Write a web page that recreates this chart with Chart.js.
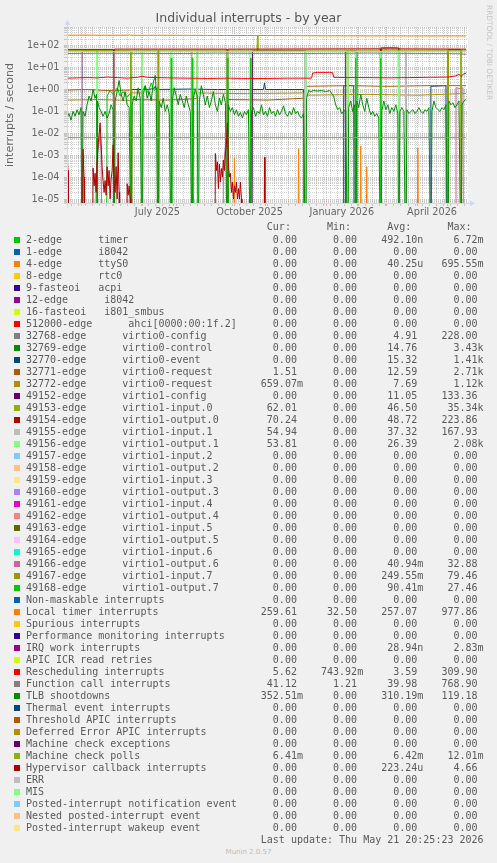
<!DOCTYPE html>
<html>
<head>
<meta charset="utf-8">
<title>Individual interrupts - by year</title>
<script src="https://cdn.jsdelivr.net/npm/chart.js@4.4.1/dist/chart.umd.min.js"></script>
<style>
  html, body { margin: 0; padding: 0; background: #f0f0f0; }
  #page { position: relative; width: 497px; height: 863px; overflow: hidden; }
  #chart { position: absolute; left: 0; top: 0; }
  .txt { position: absolute; left: 26px; height: 12px; font: 10px/12px "DejaVu Sans Mono", monospace; color: #5a5a5a; white-space: pre; }
  .box { position: absolute; left: 14px; width: 6px; height: 6px; }
  #munin { position: absolute; left: 0; width: 497px; top: 846px; text-align: center; font: 7px/12px "DejaVu Sans", sans-serif; color: #bbb; }
</style>
</head>
<body>
<div id="page">
  <canvas id="chart" width="497" height="222" style="width:497px;height:222px"></canvas>
  <div id="legend"></div>
  <div id="munin">Munin 2.0.57</div>
</div>
<script>
// Munin "irqstats" year graph, rebuilt with Chart.js

// ── Legend table ─────────────────────────────────────────────
const legendNames = [
  '2-edge      timer', '1-edge      i8042', '4-edge      ttyS0', '8-edge      rtc0',
  '9-fasteoi   acpi', '12-edge      i8042', '16-fasteoi   i801_smbus',
  '512000-edge      ahci[0000:00:1f.2]',
  '32768-edge      virtio0-config', '32769-edge      virtio0-control', '32770-edge      virtio0-event',
  '32771-edge      virtio0-request', '32772-edge      virtio0-request',
  '49152-edge      virtio1-config', '49153-edge      virtio1-input.0', '49154-edge      virtio1-output.0',
  '49155-edge      virtio1-input.1', '49156-edge      virtio1-output.1', '49157-edge      virtio1-input.2',
  '49158-edge      virtio1-output.2', '49159-edge      virtio1-input.3', '49160-edge      virtio1-output.3',
  '49161-edge      virtio1-input.4', '49162-edge      virtio1-output.4', '49163-edge      virtio1-input.5',
  '49164-edge      virtio1-output.5', '49165-edge      virtio1-input.6', '49166-edge      virtio1-output.6',
  '49167-edge      virtio1-input.7', '49168-edge      virtio1-output.7',
  'Non-maskable interrupts', 'Local timer interrupts', 'Spurious interrupts',
  'Performance monitoring interrupts', 'IRQ work interrupts', 'APIC ICR read retries',
  'Rescheduling interrupts', 'Function call interrupts', 'TLB shootdowns',
  'Thermal event interrupts', 'Threshold APIC interrupts', 'Deferred Error APIC interrupts',
  'Machine check exceptions', 'Machine check polls', 'Hypervisor callback interrupts',
  'ERR', 'MIS', 'Posted-interrupt notification event', 'Nested posted-interrupt event',
  'Posted-interrupt wakeup event'
];
const legendColors = [
  '#00CC00', '#0066B3', '#FF8000', '#FFCC00', '#330099', '#990099', '#CCFF00', '#FF0000',
  '#808080', '#008F00', '#00487D', '#B35A00', '#B38F00', '#6B006B', '#8FB300', '#B30000',
  '#BEBEBE', '#80FF80', '#80C9FF', '#FFC080', '#FFE680', '#AA80FF', '#EE00CC', '#FF8080',
  '#666600', '#FFBFFF', '#00FFCC', '#CC6699', '#999900', '#00CC00',
  '#0066B3', '#FF8000', '#FFCC00', '#330099', '#990099', '#CCFF00', '#FF0000', '#808080',
  '#008F00', '#00487D', '#B35A00', '#B38F00', '#6B006B', '#8FB300', '#B30000', '#BEBEBE',
  '#80FF80', '#80C9FF', '#FFC080', '#FFE680'
];
const curValues = [
  '0.00', '0.00', '0.00', '0.00', '0.00', '0.00', '0.00', '0.00',
  '0.00', '0.00', '0.00', '1.51', '659.07m', '0.00', '62.01', '70.24',
  '54.94', '53.81', '0.00', '0.00', '0.00', '0.00', '0.00', '0.00',
  '0.00', '0.00', '0.00', '0.00', '0.00', '0.00',
  '0.00', '259.61', '0.00', '0.00', '0.00', '0.00', '5.62', '41.12',
  '352.51m', '0.00', '0.00', '0.00', '0.00', '6.41m', '0.00', '0.00',
  '0.00', '0.00', '0.00', '0.00'
];
const minValues = [
  '0.00', '0.00', '0.00', '0.00', '0.00', '0.00', '0.00', '0.00',
  '0.00', '0.00', '0.00', '0.00', '0.00', '0.00', '0.00', '0.00',
  '0.00', '0.00', '0.00', '0.00', '0.00', '0.00', '0.00', '0.00',
  '0.00', '0.00', '0.00', '0.00', '0.00', '0.00',
  '0.00', '32.50', '0.00', '0.00', '0.00', '0.00', '743.92m', '1.21',
  '0.00', '0.00', '0.00', '0.00', '0.00', '0.00', '0.00', '0.00',
  '0.00', '0.00', '0.00', '0.00'
];
const avgValues = [
  '492.10n', '0.00', '40.25u', '0.00', '0.00', '0.00', '0.00', '0.00',
  '4.91', '14.76', '15.32', '12.59', '7.69', '11.05', '46.50', '48.72',
  '37.32', '26.39', '0.00', '0.00', '0.00', '0.00', '0.00', '0.00',
  '0.00', '0.00', '0.00', '40.94m', '249.55m', '90.41m',
  '0.00', '257.07', '0.00', '0.00', '28.94n', '0.00', '3.59', '39.98',
  '310.19m', '0.00', '0.00', '0.00', '0.00', '6.42m', '223.24u', '0.00',
  '0.00', '0.00', '0.00', '0.00'
];
const maxValues = [
  '6.72m', '0.00', '695.55m', '0.00', '0.00', '0.00', '0.00', '0.00',
  '228.00', '3.43k', '1.41k', '2.71k', '1.12k', '133.36', '35.34k', '223.86',
  '167.93', '2.08k', '0.00', '0.00', '0.00', '0.00', '0.00', '0.00',
  '0.00', '0.00', '0.00', '32.88', '79.46', '27.46',
  '0.00', '977.86', '0.00', '0.00', '2.83m', '0.00', '309.90', '768.90',
  '119.18', '0.00', '0.00', '0.00', '0.00', '12.01m', '4.66', '0.00',
  '0.00', '0.00', '0.00', '0.00'
];
const lastUpdate = 'Last update: Thu May 21 20:25:23 2026';

// ── Axes ─────────────────────────────────────────────────────
// x = days since 16 Apr 2025 20:25 (munin year view = 400 days)
const monthStartDays = [14.15, 45.15, 75.15, 106.15, 137.15, 167.15, 198.15, 228.15, 259.15, 290.15, 318.15, 349.15, 379.15];
const firstMondayDay = 4.15;
const xLabelDays = [90.15, 182.15, 274.15, 364.15];
const xTickLabels = ['July 2025', 'October 2025', 'January 2026', 'April 2026'];
const yDecades = [-5, -4, -3, -2, -1, 0, 1, 2];
const yTickLabels = ['1e-05', '1e-04', '1e-03', '1e-02', '1e-01', '1e+00', '1e+01', '1e+02'];
const Y_MIN = 6.6e-6;
const Y_MAX = 714;

// ── Series: [day, interrupts/s] ─────────────────────────────
const ttyS0 = [[166,0],[167,7.7e-4],[168,0],[230,0],[231,2e-3],[232,0],[292,0],[293,2.6e-3],[294,0],
  [298,0],[299,3e-4],[300,0],[349,0],[350,2.2e-3],[351,0]];
const virtio0Control = [[0,55],[20,56],[40,55],[63.5,55],[64,0],[312.5,0],[313,80],[322,82],[330.5,80],[331,0],[398,0]];
const virtio0Event = [[0,0],[63.5,0],[64,1.0],[80,1.0],[87,1.1],[88,1.4],[89,1.0],[120,1.05],[150,1.0],[196,1.0],
  [197,2.0],[198,1.0],[236,1.0],[236.5,0],[275.5,0],[276,1.5],[286,1.5],[286.5,0],[362.5,0],[363,1.4],[378,1.5],
  [378.5,0],[379.5,0],[380,65],[392.5,65],[393,0],[398,0]];
const virtio0RequestA = [[0,0.95],[20,1.0],[40,0.9],[63.5,0.95],[64,0],[64.5,0.35],[100,0.33],[129.5,0.38],[130,55],
  [159.5,55],[160,0],[160.5,0.35],[200,0.33],[236,0.4],[236.5,0],[237.5,0],[238,1.4],[280,1.5],[320,1.4],[360,1.5],[398,1.5]];
const virtio0RequestB = [[0,0.33],[30,0.35],[63.5,0.32],[64,0],[64.5,0.7],[74.5,0.7],[75,55],[124.5,55],[125,0],
  [125.5,0.7],[180,0.65],[236,0.7],[236.5,0],[237.5,0],[238,0.55],[300,0.6],[350,0.55],[398,0.66]];
const virtio1Config = [[0,0],[14.5,0],[15,58],[46.5,58],[47,0],[184.5,0],[185,60],[237.5,60],[238,0],[277.5,0],
  [278,58],[288.5,58],[289,0],[337.5,0],[338,58],[338.5,0],[398,0]];
const virtio1Input0 = [[0,60],[63.5,60],[64,0],[64.5,62],[189.5,62],[190,300],[190.5,62],[279.5,62],[280,0],
  [280.5,62],[379.5,62],[380,0],[380.5,62],[398,62]];
const virtio1Output0 = [[0,68],[46.5,68],[47,0],[47.5,70],[159.5,70],[160,0],[160.5,70],[312.5,72],[313,0],
  [313.5,72],[398,70]];
const virtio1Input1 = [[0,55],[14.5,55],[15,0],[46.5,0],[47,55],[237.5,55],[238,0],[238.5,55],[337.5,55],[338,0],
  [338.5,55],[398,55]];
const virtio1Output1 = [[0,54],[29.5,54],[30,0],[30.5,54],[74.5,54],[75,0],[75.5,54],[90.5,55],[91,0],[91.5,55],
  [103.5,55],[104,0],[104.5,55],[129.5,54],[130,0],[130.5,54],[159.5,54],[160,0],[160.5,54],[182.5,54],[183,0],
  [183.5,54],[237.5,55],[238,0],[238.5,55],[279.5,55],[280,0],[280.5,55],[287.5,55],[288,0],[288.5,55],[312.5,55],
  [313,0],[313.5,55],[330.5,54],[331,0],[331.5,54],[392.5,54],[393,0],[393.5,54],[398,54]];
const virtio1Input4 = [[124.5,0],[125,1.5e-5],[125.5,0]];
const virtio1Output6 = [[0,0],[28.5,0],[29,1e-4],[31,2e-3],[33,8e-3],[34,1e-3],[35,0],[155.5,0],[156,2e-4],[158,3e-3],
  [160,0.02],[161,5e-4],[162,0],[387.5,0],[388,1.2],[392,1.1],[395,1.2],[395.5,0],[398,0]];
const virtio1Input7 = [[90.5,0],[91,60],[91.5,0],[379.5,0],[380,58],[380.5,0],[392.5,0],[393,55],[393.5,0]];
const virtio1Output7 = [[0,0],[39.5,0],[40,0.5],[43,0.9],[46,0.6],[50,1.2],[53,0.5],[56,0.8],[60,0.45],[63.5,0.7],
  [64,0],[74.5,0],[75,0.8],[78,1.5],[81,0.7],[84,2.0],[87,0.9],[90.5,1.2],[91,0],[103.5,0],[104,27],[104.5,0],
  [124.5,0],[125,27],[125.5,0],[159.5,0],[160,27],[160.5,0],[182.5,0],[183,27],[183.5,0],[287.5,0],[288,27],
  [288.5,0],[312.5,0],[313,27],[313.5,0],[398,0]];
const localTimer = [[0,305],[10,303],[20,306],[30,302],[40,300],[50,301],[61,300],[62,318],[63,300],[80,298],
  [100,300],[120,297],[140,295],[160,292],[180,292],[200,290],[220,288],[240,285],[260,282],[280,281],[300,280],
  [320,280],[340,279],[360,278],[380,279],[398,278]];
const rescheduling = [[0,3.3],[10,3.4],[20,3.5],[30,3.4],[40,3.7],[50,3.5],[60,3.3],[70,3.6],[75,4.0],[80,3.6],
  [90,3.5],[100,3.4],[120,3.3],[140,3.2],[160,3.3],[180,3.2],[200,3.2],[220,3.3],[244,3.3],[245,5.6],[250,6.1],
  [256,6.0],[262,6.1],[265,5.8],[266,3.6],[280,3.5],[300,3.5],[320,3.4],[340,3.5],[360,3.6],[380,3.7],[388,4.2],
  [391,5.0],[393,4.0],[396,5.2],[398,5.6]];
const functionCall = [[0,44],[30,45],[60,45],[90,44],[120,44],[150,46],[180,45],[210,45],[240,44],[270,45],
  [300,46],[330,45],[360,44],[390,43],[398,41]];
const tlbShootdowns = [[0,0.05],[2,0.08],[4,0.04],[6,0.1],[8,0.06],[10,0.12],[12,0.07],[14,0.15],[15,0],[16,0.1],
  [18,0.06],[20,0.2],[22,0.5],[24,0.3],[26,1.0],[28,0.4],[29.5,0.6],[30,0],[30.5,0.3],[32,0.15],[34,0.1],[36,0.06],
  [38,0.1],[40,0.05],[42,0.08],[44,0.2],[46,0.12],[47,0],[48,0.3],[50,0.8],[52,2.6],[54,0.6],[56,0.3],[58,0.8],
  [60,0.2],[62,0.15],[64,0],[65,0.2],[67,0.5],[69,0.3],[71,1.2],[73,0.4],[75,0],[76,0.6],[78,1.5],[80,0.4],[82,0.8],
  [84,0.3],[86,2.0],[88,4.4],[89,1.0],[91,0],[92,0.3],[94,0.15],[96,0.4],[98,0.1],[100,0.2],[102,0.08],[104,0],
  [105,0.3],[107,1.2],[109,0.5],[111,0.2],[113,0.6],[115,0.3],[117,0.15],[119,0.5],[121,0.2],[123,0.1],[125,0],
  [126,0.4],[128,1.0],[130,0.5],[131,0],[132,0.3],[134,1.5],[136,0.6],[138,0.2],[140,0.5],[142,0.15],[144,0.3],
  [146,0.8],[148,0.2],[150,0.1],[152,0.4],[154,0.2],[156,0.6],[158,0.25],[160,0],[161,0.2],[163,0.1],[165,0.15],
  [167,0.07],[169,0.12],[171,0.06],[173,0.09],[175,0.05],[177,0.1],[179,0.07],[181,0.12],[183,0],[184,0.1],
  [186,0.15],[188,0.06],[190,0.1],[192,0.08],[194,0.2],[196,0.07],[198,0.1],[200,0.06],[202,0.15],[204,0.08],
  [206,0.1],[208,0.06],[210,0.12],[212,0.07],[214,0.1],[216,0.18],[218,0.08],[220,0.06],[222,0.1],[224,0.07],
  [226,0.15],[228,0.08],[230,0.1],[232,0.06],[234,0.05],[236,0.08],[238,0],[239,0.4],[241,0.9],[243,0.8],[246,0.9],
  [250,0.85],[254,0.9],[258,0.8],[262,0.9],[266,0.5],[268,0.2],[270,0.12],[272,0.15],[274,0.08],[276,0.1],
  [278,0.12],[280,0],[281,0.15],[283,0.3],[285,0.1],[287,0.2],[288,0],[289,0.3],[291,0.15],[293,0.6],[295,0.2],
  [297,0.1],[299,0.4],[301,0.15],[303,0.07],[305,0.1],[307,0.06],[309,0.08],[311,0.05],[313,0],[314,0.1],[316,0.3],
  [318,0.12],[320,0.2],[322,0.08],[324,0.15],[326,0.1],[328,0.2],[330,0.08],[331,0],[332,0.1],[334,0.15],[336,0.1],
  [338,0],[339,0.12],[341,0.08],[343,0.1],[345,0.12],[347,0.08],[349,0.1],[351,0.15],[353,0.1],[355,0.08],
  [357,0.12],[359,0.1],[361,0.15],[363,0],[364,0.1],[366,0.3],[368,0.15],[370,0.12],[372,0.1],[374,0.15],
  [376,0.12],[378,0.2],[380,0],[381,0.3],[383,0.2],[385,0.25],[387,0.15],[389,0.2],[391,0.3],[393,0],[394,0.2],
  [396,0.3],[398,0.35]];
const machineCheckPolls = [[0,6.4e-3],[398,6.4e-3]];
const hypervisorCallback = [[0,0],[0.5,5e-4],[1,2e-4],[1.5,0],[15.5,0],[16,1.9e-3],[17,1e-4],[17.5,0],
  [25.5,0],[26,2.6e-4],[27,4e-5],[28,1.5e-4],[29,2e-5],[30,5e-4],[31,3e-3],[32,8e-3],[33,0.03],[34,4e-3],[35,3e-4],
  [36,7e-5],[37,2e-5],[38,7e-5],[39,1.5e-5],[40,3e-4],[41,4e-5],[42,2e-4],[43,1e-5],[44,8e-5],[45,2e-4],[46,3e-3],
  [47,5e-5],[48,2e-5],[49,3e-4],[50,1e-5],[51,1.3e-3],[52,2e-5],[52.5,0],[59.5,0],[60,5e-5],[61,1.5e-5],[62,4e-5],
  [63,1e-5],[63.5,0],[147.5,0],[148,1.2e-3],[149,2e-4],[150,5e-4],[151,3e-5],[152,4e-4],[153,6e-5],[154,2.5e-4],
  [155,1e-4],[156,6e-4],[157,2e-4],[158,1.2e-3],[159,3e-3],[160,0.03],[161,4.5e-4],[162,1e-4],[163,1.5e-4],
  [164,2e-5],[165,6e-5],[166,1e-5],[167,4e-5],[168,2e-5],[169,6e-5],[170,1e-5],[171,3e-5],[172,1e-5],[173,6e-5],
  [174,1e-5],[174.5,0],[196.5,0],[197,8e-4],[197.5,0],[398,0]];

// legend index -> series drawn in the graph (rrdtool draws in legend order)
const plotted = [
  [2, ttyS0], [9, virtio0Control], [10, virtio0Event], [11, virtio0RequestA], [12, virtio0RequestB],
  [13, virtio1Config], [14, virtio1Input0], [15, virtio1Output0], [16, virtio1Input1], [17, virtio1Output1],
  [22, virtio1Input4], [27, virtio1Output6], [28, virtio1Input7], [29, virtio1Output7],
  [31, localTimer], [36, rescheduling], [37, functionCall], [38, tlbShootdowns],
  [43, machineCheckPolls], [44, hypervisorCallback]
];

// rrdtool puts log(0) at minus infinity: push zeros far below the axis
const ZERO_DRAW = 1e-9;

const datasets = plotted.map(([idx, pts]) => ({
  label: legendNames[idx],
  data: pts.map(([d, v]) => ({ x: d, y: v > 0 ? v : ZERO_DRAW })),
  borderColor: legendColors[idx],
  backgroundColor: legendColors[idx],
  borderWidth: 1,
  pointRadius: 0,
  tension: 0,
  fill: false,
  order: -idx
}));

// ── Grid ticks ───────────────────────────────────────────────
const xTicks = [];
monthStartDays.forEach(d => xTicks.push({ value: d, kind: 'major' }));
for (let d = firstMondayDay; d < 400; d += 7) {
  if (!monthStartDays.some(m => Math.abs(m - d) < 0.01)) xTicks.push({ value: d, kind: 'minor' });
}
xLabelDays.forEach((d, i) => xTicks.push({ value: d, kind: 'label', text: xTickLabels[i] }));
xTicks.sort((a, b) => a.value - b.value);

const yTicks = [];
for (let e = -6; e <= 2; e++) {
  for (let m = 1; m <= 9; m++) {
    const v = m * Math.pow(10, e);
    if (v < Y_MIN || v > Y_MAX) continue;
    const di = yDecades.indexOf(e);
    yTicks.push(m === 1 && di >= 0 ? { value: v, kind: 'major', text: yTickLabels[di] } : { value: v, kind: 'minor' });
  }
}

const GRID = 'rgba(140,140,140,0.42)';
const MGRID = 'rgba(228,80,80,0.42)';
const AXIS = '#CFD6F8';
const FONT = '#666666';

const gridColor = c => {
  const t = c.tick;
  if (!t) return GRID;
  if (t.kind === 'label') return 'rgba(0,0,0,0)';
  return t.kind === 'major' ? MGRID : GRID;
};

const rrdFrame = {
  id: 'rrdFrame',
  beforeDraw(chart) {
    const { ctx, chartArea: a } = chart;
    ctx.save();
    ctx.fillStyle = '#ffffff';
    ctx.fillRect(a.left, a.top, a.right - a.left, a.bottom - a.top);
    ctx.restore();
  },
  afterDraw(chart) {
    const { ctx, chartArea: a } = chart;
    const x0 = Math.round(a.left) + 0.5, y0 = Math.round(a.bottom) + 0.5;
    const xr = Math.round(a.right), yt = Math.round(a.top);
    ctx.save();
    ctx.strokeStyle = AXIS;
    ctx.fillStyle = AXIS;
    ctx.lineWidth = 1;
    ctx.beginPath();
    ctx.moveTo(x0 - 4, y0); ctx.lineTo(xr + 4, y0);
    ctx.moveTo(x0, y0 + 4); ctx.lineTo(x0, yt - 4);
    ctx.stroke();
    ctx.beginPath();
    ctx.moveTo(xr + 2, y0 - 3); ctx.lineTo(xr + 2, y0 + 3); ctx.lineTo(xr + 7, y0); ctx.closePath();
    ctx.moveTo(x0 - 3, yt - 2); ctx.lineTo(x0 + 3, yt - 2); ctx.lineTo(x0, yt - 7); ctx.closePath();
    ctx.fill();
    // rrdtool watermark
    ctx.translate(488.5, 5);
    ctx.rotate(Math.PI / 2);
    ctx.fillStyle = '#c4c4c4';
    ctx.font = '7.4px "DejaVu Sans"';
    ctx.textBaseline = 'middle';
    ctx.textAlign = 'left';
    ctx.fillText('RRDTOOL / TOBI OETIKER', 0, 0);
    ctx.restore();
  }
};

Chart.defaults.font.family = '"DejaVu Sans", sans-serif';

new Chart(document.getElementById('chart'), {
  type: 'line',
  data: { datasets },
  options: {
    responsive: false,
    animation: false,
    devicePixelRatio: 1,
    layout: { padding: 0, autoPadding: false },
    plugins: {
      legend: { display: false },
      tooltip: { enabled: false },
      title: {
        display: true,
        text: 'Individual interrupts - by year',
        color: '#555555',
        font: { size: 12.5, weight: 'normal' },
        padding: { top: 11, bottom: 1 }
      }
    },
    scales: {
      x: {
        type: 'linear', min: 0, max: 400,
        afterBuildTicks: s => { s.ticks = xTicks.map(t => ({ ...t })); },
        afterFit: s => { s.height = 19; },
        grid: { color: gridColor, tickColor: gridColor, lineWidth: 1, tickLength: 3, tickBorderDash: [] },
        border: { display: true, color: AXIS, width: 1, dash: [1, 1], z: 1 },
        ticks: {
          autoSkip: false, maxRotation: 0, minRotation: 0, padding: 1, color: FONT,
          font: { size: 9.7 },
          callback: (v, i, ticks) => ticks[i].text || ''
        }
      },
      y: {
        type: 'logarithmic', min: Y_MIN, max: Y_MAX,
        afterBuildTicks: s => { s.ticks = yTicks.map(t => ({ ...t })); },
        afterFit: s => { s.width = 67; },
        grid: { color: gridColor, tickColor: gridColor, lineWidth: 1, tickLength: 3, tickBorderDash: [] },
        border: { display: true, color: AXIS, width: 1, dash: [1, 1], z: 1 },
        ticks: {
          autoSkip: false, padding: 4.5, color: FONT,
          font: { size: 9.7 },
          callback: (v, i, ticks) => ticks[i].text || ''
        },
        title: {
          display: true, text: 'interrupts / second', color: FONT,
          font: { size: 11 }, padding: { top: 4, bottom: 0 }
        }
      },
      yRight: {
        type: 'linear', position: 'right', display: true,
        grid: { display: false, drawTicks: false },
        border: { display: false },
        ticks: { display: false },
        afterFit: s => { s.width = 29; }
      }
    }
  },
  plugins: [rrdFrame]
});

// ── Legend (rrdtool GPRINT layout, monospace columns) ───────
const legendEl = document.getElementById('legend');
const field = s => {
  const hasUnit = /[a-zA-Z]$/.test(s);
  return (hasUnit ? s.slice(0, -1) : s).padStart(9) + (hasUnit ? s.slice(-1) : ' ');
};
function addRow(centerY, text, color) {
  if (color) {
    const box = document.createElement('div');
    box.className = 'box';
    box.style.top = (centerY - 3) + 'px';
    box.style.backgroundColor = color;
    legendEl.appendChild(box);
  }
  const txt = document.createElement('div');
  txt.className = 'txt';
  txt.style.top = (centerY - 6) + 'px';
  txt.style.color = '#5a5a5a';
  txt.textContent = text;
  legendEl.appendChild(txt);
}
addRow(227, ' '.repeat(40) + 'Cur:' + ' '.repeat(6) + 'Min:' + ' '.repeat(6) + 'Avg:' + ' '.repeat(6) + 'Max:');
legendNames.forEach((name, i) => {
  addRow(240 + 12 * i,
    name.padEnd(36) + field(curValues[i]) + field(minValues[i]) + field(avgValues[i]) + field(maxValues[i]),
    legendColors[i]);
});
addRow(240 + 12 * legendNames.length, ' '.repeat(39) + lastUpdate);
</script>
</body>
</html>
